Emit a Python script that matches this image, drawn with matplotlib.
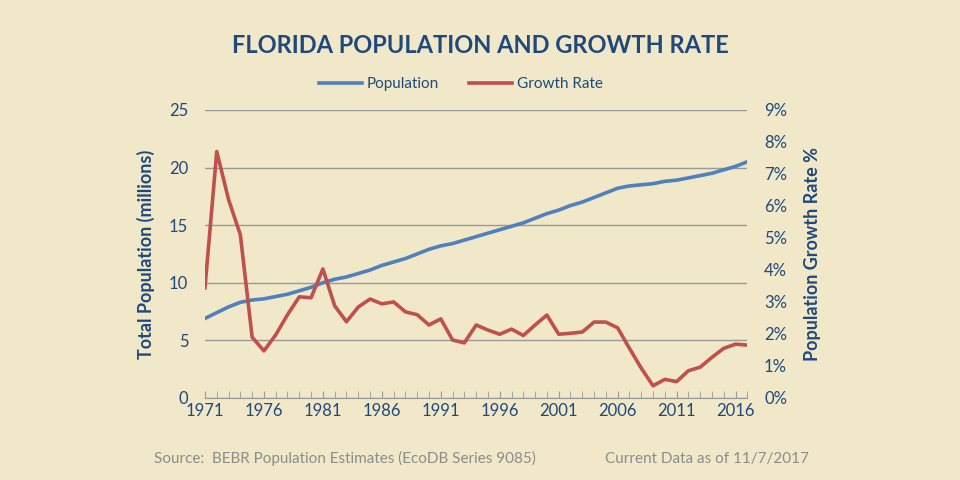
import numpy as np
import matplotlib.pyplot as plt

plt.rcParams['font.family'] = ['Lato', 'DejaVu Sans']

years = np.arange(1971, 2018)
population = [6.9, 7.4, 7.9, 8.3, 8.5, 8.6, 8.8, 9.0, 9.3, 9.6,
              10.0, 10.3, 10.5, 10.8, 11.1, 11.5, 11.8, 12.1, 12.5, 12.9,
              13.2, 13.4, 13.7, 14.0, 14.3, 14.6, 14.9, 15.2, 15.6, 16.0,
              16.3, 16.7, 17.0, 17.4, 17.8, 18.2, 18.4, 18.5, 18.6, 18.8,
              18.9, 19.1, 19.3, 19.5, 19.8, 20.1, 20.5]
growth = [3.44, 7.7, 6.2, 5.1, 1.9, 1.47, 1.97, 2.6, 3.16, 3.13,
          4.03, 2.88, 2.38, 2.84, 3.09, 2.94, 3.0, 2.69, 2.6, 2.28,
          2.47, 1.81, 1.72, 2.28, 2.12, 1.99, 2.15, 1.95, 2.28, 2.59,
          1.99, 2.02, 2.06, 2.37, 2.37, 2.19, 1.55, 0.93, 0.38, 0.58,
          0.51, 0.85, 0.96, 1.27, 1.55, 1.68, 1.65]

bg = '#F0E8C8'
navy = '#1F497D'
fig = plt.figure(figsize=(9.6, 4.8), dpi=100, facecolor=bg)
ax = fig.add_axes([0.2135, 0.171, 0.565, 0.6])
ax.set_facecolor(bg)
ax2 = ax.twinx()

ax.plot(years, population, color='#4F81BD', lw=2.6, label='Population')
ax2.plot(years, growth, color='#C0504D', lw=2.6, label='Growth Rate')

ax.set_xlim(1971, 2017)
ax.set_ylim(0, 25)
ax2.set_ylim(0, 9)
ax.set_yticks(range(0, 26, 5))
ax2.set_yticks(range(0, 10))
ax2.set_yticklabels([f'{i}%' for i in range(10)])
ax.set_xticks(range(1971, 2018, 5))
ax.set_xticks(range(1971, 2018), minor=True)
ax.grid(axis='y', color='#999999', lw=1)
ax.set_axisbelow(True)
for a in (ax, ax2):
    for s in a.spines.values():
        s.set_visible(False)
    a.tick_params(axis='y', length=0, labelsize=12, labelcolor=navy, pad=12)
ax.spines['bottom'].set_visible(True)
ax.spines['bottom'].set_color('#999999')
ax.tick_params(axis='x', which='both', direction='in', length=5, color='#999999',
               labelsize=12, labelcolor=navy)
ax.set_ylabel('Total Population (millions)', fontsize=13, fontweight='bold',
              color=navy, labelpad=10)
ax2.set_ylabel('Population Growth Rate %', fontsize=13, fontweight='bold',
               color=navy, labelpad=12)

fig.text(0.5, 0.905, 'FLORIDA POPULATION AND GROWTH RATE', ha='center', va='center',
         fontsize=17, fontweight='bold', color=navy)
h1, l1 = ax.get_legend_handles_labels()
h2, l2 = ax2.get_legend_handles_labels()
fig.legend(h1 + h2, l1 + l2, loc='center', bbox_to_anchor=(0.48, 0.825), ncol=2,
           frameon=False, fontsize=11, labelcolor=navy, handlelength=2.8,
           handletextpad=0.3, columnspacing=2)
fig.text(0.16, 0.035, 'Source:  BEBR Population Estimates (EcoDB Series 9085)',
         fontsize=11, color='#8C8C8C')
fig.text(0.63, 0.035, 'Current Data as of 11/7/2017', fontsize=11, color='#8C8C8C')

fig.savefig('out.png', dpi=100, facecolor=bg)
